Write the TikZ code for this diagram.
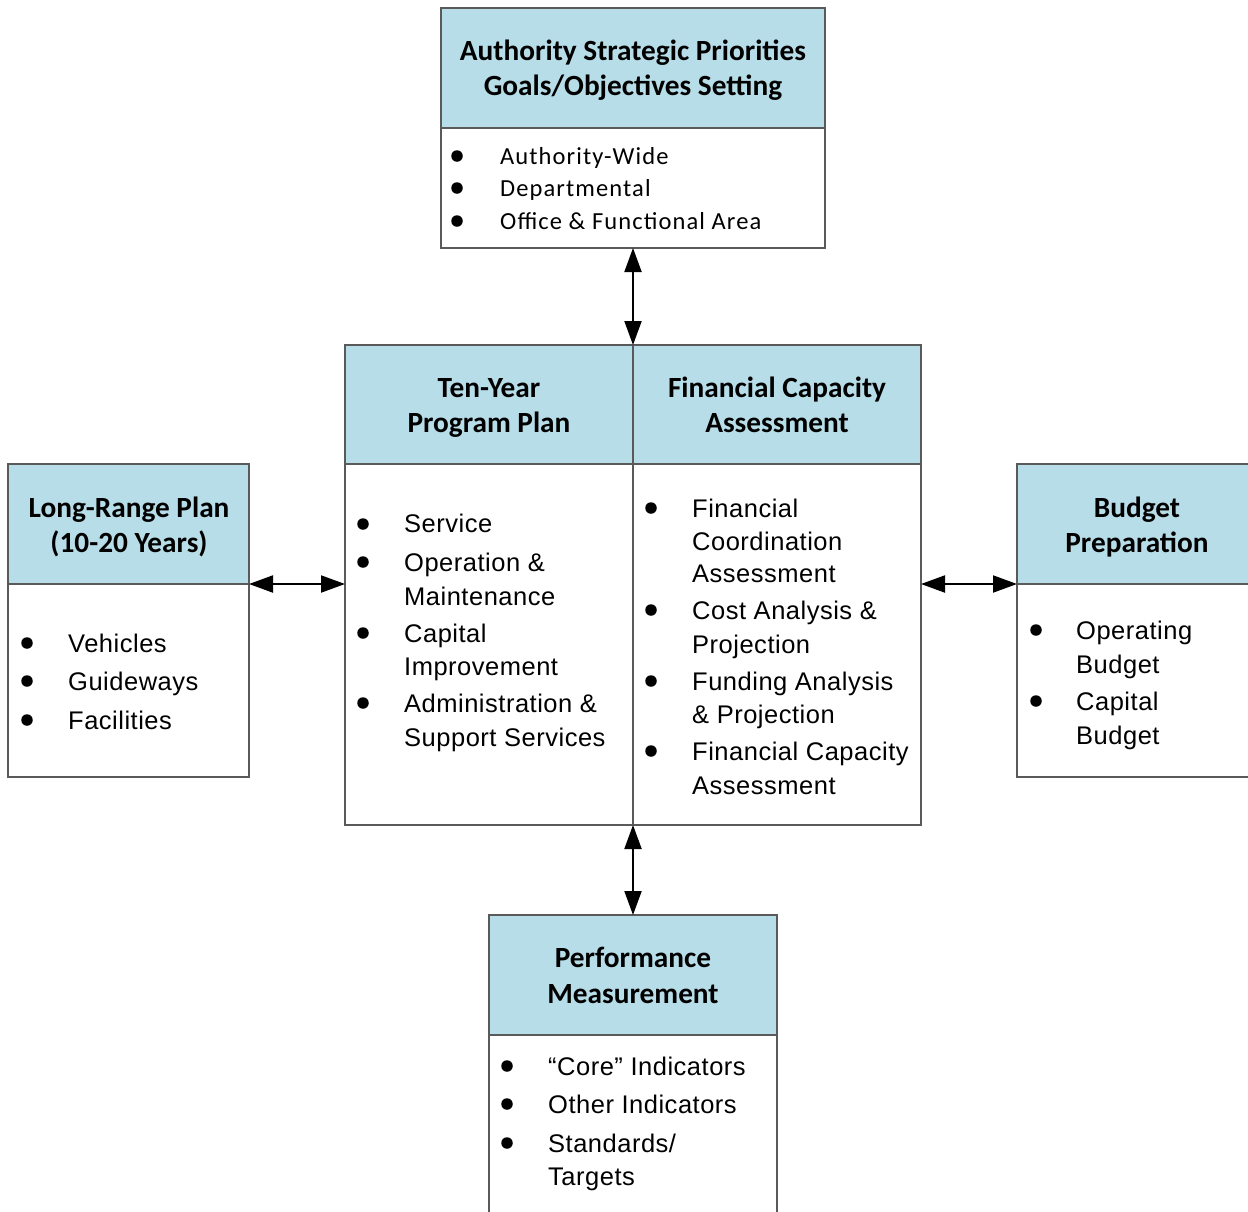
\documentclass[tikz,border=0pt]{standalone}
\usepackage{fontspec}
\setmainfont{Liberation Sans}
\newfontfamily\arialf{Liberation Sans}[LetterSpace=2]
\newfontfamily\calf{Carlito}
\newfontfamily\calsp{Carlito}[LetterSpace=4.5]
\usetikzlibrary{arrows.meta}
\definecolor{hdrblue}{HTML}{B7DDE8}
\definecolor{bordergray}{RGB}{90,90,90}
\tikzset{
  boxpart/.style={draw=bordergray, line width=1.3pt, inner sep=0pt, outer sep=0pt, anchor=north west},
  hdrbox/.style={boxpart, fill=hdrblue},
  bodybox/.style={boxpart, fill=white},
  hd/.style={font=\calf\bfseries\fontsize{29.3}{35}\selectfont, inner sep=0pt, anchor=base},
  li/.style={font=\arialf\fontsize{25.5}{34}\selectfont, inner sep=0pt, anchor=base west},
  tli/.style={font=\calsp\fontsize{24.5}{32}\selectfont, inner sep=0pt, anchor=base west},
  bul/.style={circle, fill=black, inner sep=0pt, minimum size=11.5pt},
  arr/.style={line width=2pt, {Triangle[length=24pt,width=17pt]}-{Triangle[length=24pt,width=17pt]}, shorten <=0pt, shorten >=0pt}
}
\begin{document}
\begin{tikzpicture}[x=1pt,y=-1pt]
\useasboundingbox (0,0) rectangle (1248,1211);
\clip (0,0) rectangle (1248,1211);
% boxes
\node[hdrbox, minimum width=384pt, minimum height=120pt] (th) at (441,8) {};
\node[bodybox, minimum width=384pt, minimum height=120pt] (tb) at (441,128) {};
\node[hdrbox, minimum width=288pt, minimum height=119pt] (clh) at (345,345) {};
\node[hdrbox, minimum width=288pt, minimum height=119pt] (crh) at (633,345) {};
\node[bodybox, minimum width=288pt, minimum height=361pt] (clb) at (345,464) {};
\node[bodybox, minimum width=288pt, minimum height=361pt] (crb) at (633,464) {};
\node[hdrbox, minimum width=241pt, minimum height=120pt] (lh) at (8,464) {};
\node[bodybox, minimum width=241pt, minimum height=193pt] (lb) at (8,584) {};
\node[hdrbox, minimum width=241pt, minimum height=120pt] (rh) at (1017,464) {};
\node[bodybox, minimum width=241pt, minimum height=193pt] (rb) at (1017,584) {};
\node[hdrbox, minimum width=288pt, minimum height=120pt] (bh) at (489,915) {};
\node[bodybox, minimum width=288pt, minimum height=200pt] (bb) at (489,1035) {};
% arrows
\draw[arr] (tb.south) -- (clh.north east);
\draw[arr] (lh.south east) -- (lh.south east -| clb.west);
\draw[arr] (rh.south west) -- (rh.south west -| crb.east);
\draw[arr] (clb.south east) -- (bh.north);
% headers
\node[hd] (th1) at (633,60) {Authority Strategic Priorities};
\node[hd] (th2) at (633,95) {Goals/Objectives Setting};
\node[hd] (cl1) at (489,397) {Ten-Year};
\node[hd] (cl2) at (489,432) {Program Plan};
\node[hd] (cr1) at (777,397) {Financial Capacity};
\node[hd] (cr2) at (777,432) {Assessment};
\node[hd] (lh1) at (129,517) {Long-Range Plan};
\node[hd] (lh2) at (129,552) {(10-20 Years)};
\node[hd] (rh1) at (1137,517) {Budget};
\node[hd] (rh2) at (1137,552) {Preparation};
\node[hd] (bh1) at (633,967) {Performance};
\node[hd] (bh2) at (633,1003) {Measurement};
% top body
\node[bul] (tb1) at (457,156) {};
\node[bul] (tb2) at (457,188) {};
\node[bul] (tb3) at (457,221) {};
\node[tli] (tt1) at (500,164) {Authority-Wide};
\node[tli] (tt2) at (500,196) {Departmental};
\node[tli] (tt3) at (500,229) {Office \& Functional Area};
% center left body
\node[bul] (clb1) at (363,524) {};
\node[bul] (clb2) at (363,562) {};
\node[bul] (clb3) at (363,633) {};
\node[bul] (clb4) at (363,703) {};
\node[li] (clt1) at (404,532) {Service};
\node[li] (clt2) at (404,571) {Operation \&};
\node[li] (clt3) at (404,605) {Maintenance};
\node[li] (clt4) at (404,642) {Capital};
\node[li] (clt5) at (404,675) {Improvement};
\node[li] (clt6) at (404,712) {Administration \&};
\node[li] (clt7) at (404,746) {Support Services};
% center right body
\node[bul] (crb1) at (651,508) {};
\node[bul] (crb2) at (651,610) {};
\node[bul] (crb3) at (651,681) {};
\node[bul] (crb4) at (651,751) {};
\node[li] (crt1) at (692,517) {Financial};
\node[li] (crt2) at (692,550) {Coordination};
\node[li] (crt3) at (692,582) {Assessment};
\node[li] (crt4) at (692,619) {Cost Analysis \&};
\node[li] (crt5) at (692,653) {Projection};
\node[li] (crt6) at (692,690) {Funding Analysis};
\node[li] (crt7) at (692,723) {\& Projection};
\node[li] (crt8) at (692,760) {Financial Capacity};
\node[li] (crt9) at (692,794) {Assessment};
% left body
\node[bul] (lb1) at (27,643) {};
\node[bul] (lb2) at (27,681) {};
\node[bul] (lb3) at (27,720) {};
\node[li] (lt1) at (68,652) {Vehicles};
\node[li] (lt2) at (68,690) {Guideways};
\node[li] (lt3) at (68,729) {Facilities};
% right body
\node[bul] (rb1) at (1036,630) {};
\node[bul] (rb2) at (1036,701) {};
\node[li] (rt1) at (1076,639) {Operating};
\node[li] (rt2) at (1076,673) {Budget};
\node[li] (rt3) at (1076,710) {Capital};
\node[li] (rt4) at (1076,744) {Budget};
% bottom body
\node[bul] (bb1) at (507,1066) {};
\node[bul] (bb2) at (507,1104) {};
\node[bul] (bb3) at (507,1143) {};
\node[li] (bt1) at (548,1075) {“Core” Indicators};
\node[li] (bt2) at (548,1113) {Other Indicators};
\node[li] (bt3) at (548,1152) {Standards/};
\node[li] (bt4) at (548,1185) {Targets};
\end{tikzpicture}
\end{document}
